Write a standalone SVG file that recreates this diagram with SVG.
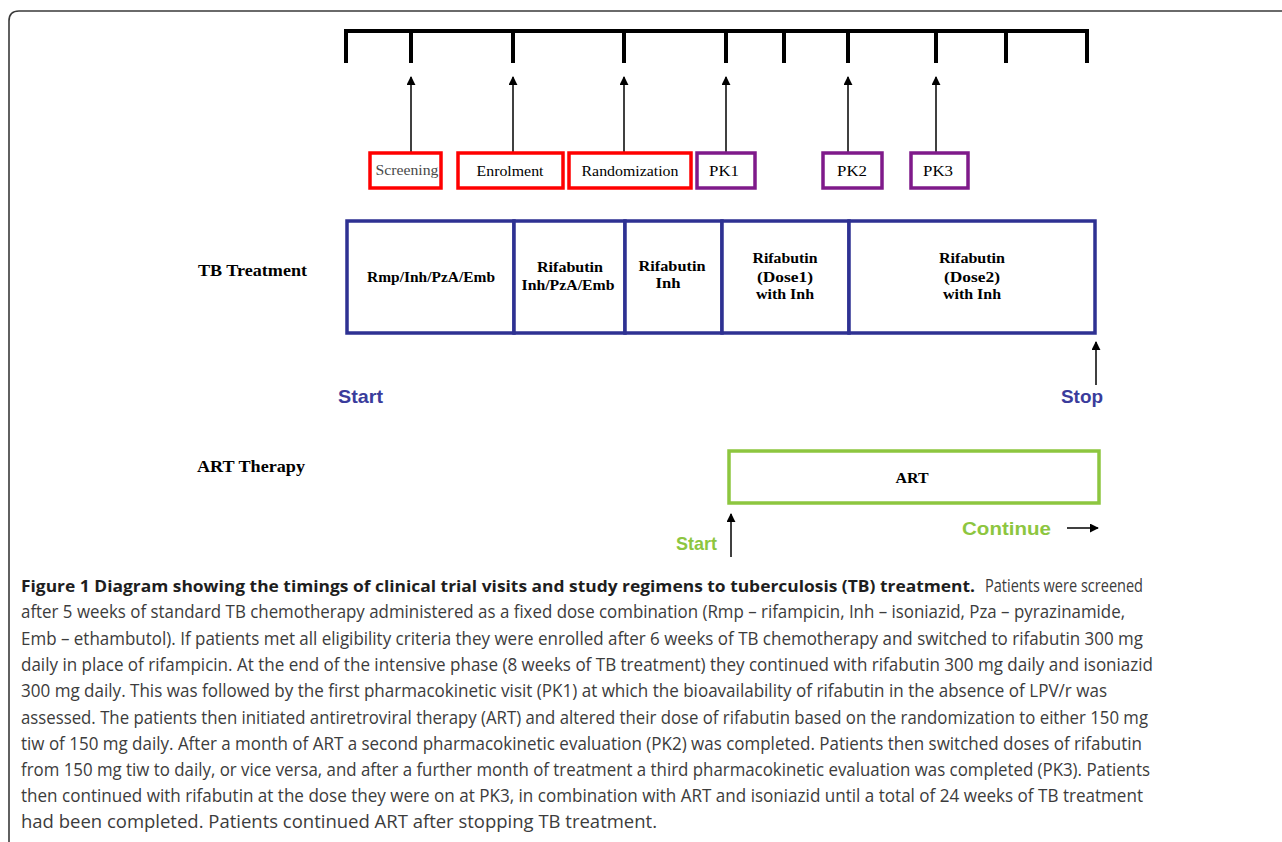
<svg xmlns="http://www.w3.org/2000/svg" width="1282" height="842" viewBox="0 0 1282 842">
<style>
.frame{fill:none;stroke:#3a3a3a;stroke-width:1.6}
.bar{fill:none;stroke:#000;stroke-width:4;stroke-linecap:butt;stroke-linejoin:miter}
.conn{fill:none;stroke:#000;stroke-width:1.5}
.red{fill:#fff;stroke:#ff0000;stroke-width:3.5}
.pur{fill:#fff;stroke:#7f1a8a;stroke-width:3.5}
.blue{fill:#fff;stroke:#2e3192;stroke-width:3.5}
.grn{fill:#fff;stroke:#8dc63f;stroke-width:3.5}
.lbl{font-family:"Liberation Serif","Times New Roman",serif;font-size:15px;fill:#000;text-anchor:middle}
.blbl{font-family:"Liberation Serif","Times New Roman",serif;font-size:15px;font-weight:bold;fill:#000;text-anchor:middle}
.side{font-family:"Liberation Serif","Times New Roman",serif;font-size:16px;font-weight:bold;fill:#000}
.sans{font-family:"Liberation Sans",Arial,sans-serif;font-weight:bold;font-size:19px}
.cap{font-family:"Open Sans","Noto Sans","Liberation Sans",sans-serif;font-size:18.5px;fill:#3c3c3c}
.capb{font-family:"Open Sans","Noto Sans","Liberation Sans",sans-serif;font-size:16.6px;font-weight:bold;fill:#1e1e1e}
</style>
<defs>
<marker id="ah" viewBox="0 0 10 10" refX="9" refY="5" markerWidth="9" markerHeight="9" markerUnits="userSpaceOnUse" orient="auto">
<path d="M0,0 L10,5 L0,10 Z" fill="#000"/>
</marker>
</defs>
<rect width="1282" height="842" fill="#fff"/>
<path class="frame" d="M9,842 V21 Q9,11 19,11 H1282"/>

<g id="timeline">
<path class="bar" d="M346,63 V31 H1087 V63 M411,31 V63 M513,31 V63 M624,31 V63 M726,31 V63 M784,31 V63 M848,31 V63 M936,31 V63 M1006,31 V63"/>
</g>

<g id="connectors">
<line class="conn" x1="411" y1="153" x2="411" y2="77" marker-end="url(#ah)"/>
<line class="conn" x1="513" y1="153" x2="513" y2="77" marker-end="url(#ah)"/>
<line class="conn" x1="624" y1="153" x2="624" y2="77" marker-end="url(#ah)"/>
<line class="conn" x1="726" y1="153" x2="726" y2="77" marker-end="url(#ah)"/>
<line class="conn" x1="848" y1="153" x2="848" y2="77" marker-end="url(#ah)"/>
<line class="conn" x1="936" y1="153" x2="936" y2="77" marker-end="url(#ah)"/>
<line class="conn" x1="1096" y1="385" x2="1096" y2="342" marker-end="url(#ah)"/>
<line class="conn" x1="731" y1="557" x2="731" y2="514" marker-end="url(#ah)"/>
<line class="conn" x1="1067" y1="528" x2="1098" y2="528" marker-end="url(#ah)"/>
</g>

<g id="screening">
<rect class="red" x="370" y="153" width="71" height="35"/>
<text class="lbl" x="407" y="175" style="fill:#4a4a4a" textLength="63" lengthAdjust="spacingAndGlyphs">Screening</text>
</g>
<g id="enrolment">
<rect class="red" x="458" y="153" width="105" height="35"/>
<text class="lbl" x="510" y="176" textLength="67" lengthAdjust="spacingAndGlyphs">Enrolment</text>
</g>
<g id="randomization">
<rect class="red" x="569" y="153" width="122" height="35"/>
<text class="lbl" x="630" y="176" textLength="97" lengthAdjust="spacingAndGlyphs">Randomization</text>
</g>
<g id="pk1">
<rect class="pur" x="697" y="153" width="58" height="35"/>
<text class="lbl" x="724" y="176" textLength="30" lengthAdjust="spacingAndGlyphs">PK1</text>
</g>
<g id="pk2">
<rect class="pur" x="823" y="153" width="59" height="35"/>
<text class="lbl" x="852" y="176" textLength="30" lengthAdjust="spacingAndGlyphs">PK2</text>
</g>
<g id="pk3">
<rect class="pur" x="911" y="153" width="57" height="35"/>
<text class="lbl" x="938" y="176" textLength="30" lengthAdjust="spacingAndGlyphs">PK3</text>
</g>

<g id="tb-label">
<text class="side" x="198" y="276" textLength="109" lengthAdjust="spacingAndGlyphs">TB Treatment</text>
</g>

<g id="tb-phase1">
<rect class="blue" x="347" y="221" width="167" height="112"/>
<text class="blbl" x="431" y="282" textLength="128" lengthAdjust="spacingAndGlyphs">Rmp/Inh/PzA/Emb</text>
</g>
<g id="tb-phase2">
<rect class="blue" x="514" y="221" width="111" height="112"/>
<text class="blbl" x="570" y="272" textLength="66" lengthAdjust="spacingAndGlyphs">Rifabutin</text>
<text class="blbl" x="568" y="290" textLength="93" lengthAdjust="spacingAndGlyphs">Inh/PzA/Emb</text>
</g>
<g id="tb-phase3">
<rect class="blue" x="625" y="221" width="97" height="112"/>
<text class="blbl" x="672" y="271" textLength="67" lengthAdjust="spacingAndGlyphs">Rifabutin</text>
<text class="blbl" x="668" y="288" textLength="25" lengthAdjust="spacingAndGlyphs">Inh</text>
</g>
<g id="tb-phase4">
<rect class="blue" x="722" y="221" width="127" height="112"/>
<text class="blbl" x="785" y="263" textLength="65" lengthAdjust="spacingAndGlyphs">Rifabutin</text>
<text class="blbl" x="785" y="282" textLength="56" lengthAdjust="spacingAndGlyphs">(Dose1)</text>
<text class="blbl" x="785" y="299" textLength="58" lengthAdjust="spacingAndGlyphs">with Inh</text>
</g>
<g id="tb-phase5">
<rect class="blue" x="849" y="221" width="246" height="112"/>
<text class="blbl" x="972" y="263" textLength="66" lengthAdjust="spacingAndGlyphs">Rifabutin</text>
<text class="blbl" x="972" y="282" textLength="56" lengthAdjust="spacingAndGlyphs">(Dose2)</text>
<text class="blbl" x="972" y="299" textLength="58" lengthAdjust="spacingAndGlyphs">with Inh</text>
</g>

<g id="tb-start">
<text class="sans" x="338" y="403" fill="#3a3c9c" textLength="45" lengthAdjust="spacingAndGlyphs">Start</text>
</g>
<g id="tb-stop">
<text class="sans" x="1061" y="403" fill="#3a3c9c" textLength="42" lengthAdjust="spacingAndGlyphs">Stop</text>
</g>

<g id="art-label">
<text class="side" x="197" y="472" textLength="108" lengthAdjust="spacingAndGlyphs">ART Therapy</text>
</g>
<g id="art">
<rect class="grn" x="729" y="451" width="370" height="52"/>
<text class="blbl" x="912" y="483" textLength="33" lengthAdjust="spacingAndGlyphs">ART</text>
</g>
<g id="art-start">
<text class="sans" x="676" y="550" fill="#8dc63f" textLength="41" lengthAdjust="spacingAndGlyphs">Start</text>
</g>
<g id="art-continue">
<text class="sans" x="962" y="535" fill="#8dc63f" textLength="89" lengthAdjust="spacingAndGlyphs">Continue</text>
</g>

<g id="caption">
<text class="capb" x="21" y="592" textLength="954" lengthAdjust="spacingAndGlyphs">Figure 1 Diagram showing the timings of clinical trial visits and study regimens to tuberculosis (TB) treatment.</text>
<text class="cap" x="985" y="592" textLength="158" lengthAdjust="spacingAndGlyphs">Patients were screened</text>
<text class="cap" x="21" y="618" textLength="1104" lengthAdjust="spacingAndGlyphs">after 5 weeks of standard TB chemotherapy administered as a fixed dose combination (Rmp – rifampicin, Inh – isoniazid, Pza – pyrazinamide,</text>
<text class="cap" x="21" y="645" textLength="1122" lengthAdjust="spacingAndGlyphs">Emb – ethambutol). If patients met all eligibility criteria they were enrolled after 6 weeks of TB chemotherapy and switched to rifabutin 300 mg</text>
<text class="cap" x="21" y="671" textLength="1132" lengthAdjust="spacingAndGlyphs">daily in place of rifampicin. At the end of the intensive phase (8 weeks of TB treatment) they continued with rifabutin 300 mg daily and isoniazid</text>
<text class="cap" x="21" y="697" textLength="1086" lengthAdjust="spacingAndGlyphs">300 mg daily. This was followed by the first pharmacokinetic visit (PK1) at which the bioavailability of rifabutin in the absence of LPV/r was</text>
<text class="cap" x="21" y="724" textLength="1127" lengthAdjust="spacingAndGlyphs">assessed. The patients then initiated antiretroviral therapy (ART) and altered their dose of rifabutin based on the randomization to either 150 mg</text>
<text class="cap" x="21" y="750" textLength="1121" lengthAdjust="spacingAndGlyphs">tiw of 150 mg daily. After a month of ART a second pharmacokinetic evaluation (PK2) was completed. Patients then switched doses of rifabutin</text>
<text class="cap" x="21" y="776" textLength="1129" lengthAdjust="spacingAndGlyphs">from 150 mg tiw to daily, or vice versa, and after a further month of treatment a third pharmacokinetic evaluation was completed (PK3). Patients</text>
<text class="cap" x="21" y="802" textLength="1122" lengthAdjust="spacingAndGlyphs">then continued with rifabutin at the dose they were on at PK3, in combination with ART and isoniazid until a total of 24 weeks of TB treatment</text>
<text class="cap" x="21" y="828" textLength="636" lengthAdjust="spacingAndGlyphs">had been completed. Patients continued ART after stopping TB treatment.</text>
</g>
</svg>
